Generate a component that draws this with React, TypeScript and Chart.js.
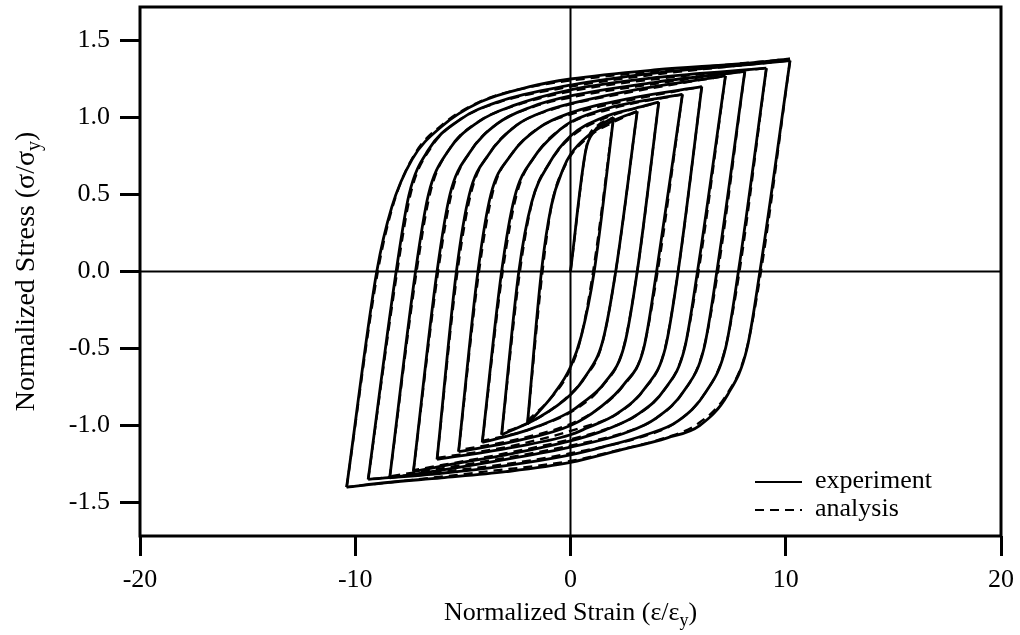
import React, { useEffect, useRef } from 'react';
import { Chart, registerables } from 'chart.js';

Chart.register(...registerables);

type P = [number, number][];

const X_TICKS = [-20, -10, 0, 10, 20];
const Y_TICKS = [-1.5, -1.0, -0.5, 0.0, 0.5, 1.0, 1.5];
const X_TITLE = ['Normalized Strain (\u03b5/\u03b5', 'y', ')'];
const Y_TITLE = ['Normalized Stress (\u03c3/\u03c3', 'y', ')'];
const LEGEND_LABELS = ['experiment', 'analysis'];

// ---------- experiment ----------
const expInit: P = [[0, 0], [0.7, 0.78], [1.1, 0.91], [1.5, 0.96], [2.0, 1.0]];

const expDown1: P = [[2.0, 1.0], [1.1, 0], [0.5, -0.42], [0, -0.62], [-0.8, -0.8], [-2.0, -0.99]];
const expDown2: P = [[3.1, 1.04], [2.1, 0], [1.5, -0.45], [0.7, -0.68], [0, -0.8], [-1.5, -0.95], [-3.2, -1.06]];
const expDown3: P = [[4.1, 1.1], [3.1, 0], [2.5, -0.48], [1.6, -0.72], [0.5, -0.86], [0, -0.91], [-2, -1.03], [-4.1, -1.11]];
const expDown4: P = [[5.2, 1.15], [4.0, 0], [3.4, -0.5], [2.5, -0.73], [1.3, -0.89], [0, -1.0], [-2.5, -1.1], [-5.2, -1.17]];
const expDown5: P = [[6.1, 1.2], [5.0, 0], [4.4, -0.5], [3.5, -0.75], [2.2, -0.92], [0.7, -1.02], [0, -1.06], [-3, -1.15], [-6.2, -1.22]];
const expDown6: P = [[7.2, 1.27], [5.9, 0], [5.3, -0.5], [4.4, -0.76], [3.1, -0.93], [1.6, -1.03], [0, -1.1], [-3, -1.19], [-5.5, -1.25], [-7.3, -1.3]];
const expDown7: P = [[8.1, 1.3], [6.8, 0], [6.2, -0.5], [5.3, -0.77], [4.0, -0.95], [2.5, -1.05], [0, -1.14], [-3, -1.22], [-6, -1.29], [-8.4, -1.34]];
const expDown8: P = [[9.1, 1.32], [7.8, 0], [7.2, -0.5], [6.3, -0.78], [5.0, -0.97], [3.5, -1.06], [1.5, -1.14], [0, -1.19], [-3, -1.26], [-6, -1.31], [-9.4, -1.35]];
const expDown9: P = [[10.2, 1.37], [8.8, 0], [8.2, -0.5], [7.3, -0.8], [6.0, -1.0], [4.5, -1.08], [2.3, -1.16], [0, -1.24], [-3, -1.3], [-6, -1.34], [-8.5, -1.37], [-10.4, -1.4]];

const expUp1: P = [[-2.0, -0.99], [-1.35, 0], [-0.9, 0.42], [-0.3, 0.68], [0, 0.76], [0.8, 0.88], [2.0, 0.98], [3.1, 1.04]];
const expUp2: P = [[-3.2, -1.06], [-2.4, 0], [-1.8, 0.45], [-1.0, 0.7], [0, 0.88], [1.5, 1.0], [3.0, 1.06], [4.1, 1.1]];
const expUp3: P = [[-4.1, -1.11], [-3.2, 0], [-2.6, 0.48], [-1.7, 0.74], [-0.5, 0.92], [0, 0.97], [2, 1.07], [5.2, 1.15]];
const expUp4: P = [[-5.2, -1.17], [-4.3, 0], [-3.7, 0.5], [-2.8, 0.75], [-1.5, 0.93], [0, 1.03], [3, 1.13], [6.1, 1.2]];
const expUp5: P = [[-6.2, -1.22], [-5.3, 0], [-4.7, 0.5], [-3.8, 0.76], [-2.5, 0.95], [-1, 1.05], [0, 1.09], [3, 1.18], [7.2, 1.27]];
const expUp6: P = [[-7.3, -1.3], [-6.2, 0], [-5.6, 0.5], [-4.7, 0.77], [-3.4, 0.96], [-1.8, 1.07], [0, 1.14], [4, 1.23], [8.1, 1.3]];
const expUp7: P = [[-8.4, -1.34], [-7.2, 0], [-6.6, 0.5], [-5.7, 0.78], [-4.3, 0.97], [-2.6, 1.08], [0, 1.18], [4, 1.26], [9.1, 1.32]];
const expUp8: P = [[-9.4, -1.35], [-8.1, 0], [-7.5, 0.5], [-6.6, 0.79], [-5.2, 0.98], [-3.4, 1.1], [0, 1.21], [4, 1.29], [8, 1.34], [10.2, 1.37]];
const expUp9: P = [[-10.4, -1.4], [-9.0, 0], [-8.3, 0.42], [-7.35, 0.73], [-6.0, 0.94], [-4.2, 1.1], [-1.9, 1.2], [0, 1.25], [4, 1.31], [8, 1.35], [10.2, 1.38]];

// ---------- analysis ----------
const anaInit: P = [[0, 0], [0.78, 0.84], [1.2, 0.94], [2.0, 1.0]];

const anaDown1: P = [[2.0, 1.0], [1.05, 0], [0.45, -0.45], [-0.1, -0.66], [-0.9, -0.82], [-2.0, -0.97]];
const anaDown2: P = [[3.1, 1.04], [2.1, 0], [1.45, -0.48], [0.6, -0.7], [-0.2, -0.82], [-1.6, -0.96], [-3.2, -1.05]];
const anaDown3: P = [[4.1, 1.1], [3.1, 0], [2.45, -0.5], [1.5, -0.74], [0.4, -0.88], [-2, -1.03], [-4.1, -1.1]];
const anaDown4: P = [[5.2, 1.15], [4.05, 0], [3.35, -0.52], [2.4, -0.75], [1.2, -0.9], [0, -0.99], [-2.5, -1.09], [-5.2, -1.16]];
const anaDown5: P = [[6.1, 1.2], [5.0, 0], [4.35, -0.52], [3.4, -0.77], [2.1, -0.93], [0.6, -1.01], [-3, -1.14], [-6.2, -1.21]];
const anaDown6: P = [[7.2, 1.27], [5.95, 0], [5.25, -0.52], [4.3, -0.78], [3.0, -0.94], [1.5, -1.03], [0, -1.09], [-3, -1.18], [-7.3, -1.29]];
const anaDown7: P = [[8.1, 1.3], [6.85, 0], [6.15, -0.52], [5.2, -0.79], [3.9, -0.96], [2.4, -1.05], [0, -1.13], [-3, -1.21], [-8.4, -1.33]];
const anaDown8: P = [[9.1, 1.32], [7.85, 0], [7.15, -0.52], [6.2, -0.8], [4.9, -0.98], [3.4, -1.07], [0, -1.18], [-3, -1.25], [-9.4, -1.35]];
const anaDown9: P = [[10.2, 1.37], [8.85, 0], [8.15, -0.52], [7.2, -0.81], [5.9, -0.99], [4.4, -1.08], [2.2, -1.16], [0, -1.23], [-4, -1.3], [-10.4, -1.4]];

const anaUp1: P = [[-2.0, -0.99], [-1.3, 0], [-0.85, 0.45], [-0.2, 0.7], [0.8, 0.87], [2, 0.97], [3.1, 1.04]];
const anaUp2: P = [[-3.2, -1.06], [-2.35, 0], [-1.75, 0.47], [-0.9, 0.72], [0, 0.87], [1.5, 0.99], [4.1, 1.1]];
const anaUp3: P = [[-4.1, -1.11], [-3.15, 0], [-2.5, 0.5], [-1.6, 0.76], [-0.4, 0.93], [2, 1.06], [5.2, 1.15]];
const anaUp4: P = [[-5.2, -1.17], [-4.25, 0], [-3.6, 0.52], [-2.7, 0.77], [-1.4, 0.94], [0, 1.02], [3, 1.12], [6.1, 1.2]];
const anaUp5: P = [[-6.2, -1.22], [-5.25, 0], [-4.6, 0.52], [-3.7, 0.78], [-2.4, 0.96], [-0.9, 1.05], [3, 1.17], [7.2, 1.27]];
const anaUp6: P = [[-7.3, -1.3], [-6.15, 0], [-5.5, 0.52], [-4.6, 0.79], [-3.3, 0.97], [-1.7, 1.07], [0, 1.13], [4, 1.22], [8.1, 1.3]];
const anaUp7: P = [[-8.4, -1.34], [-7.15, 0], [-6.5, 0.52], [-5.6, 0.8], [-4.2, 0.98], [-2.5, 1.08], [0, 1.17], [4, 1.25], [9.1, 1.32]];
const anaUp8: P = [[-9.4, -1.35], [-8.05, 0], [-7.4, 0.52], [-6.5, 0.8], [-5.1, 0.99], [-3.3, 1.1], [0, 1.2], [4, 1.28], [10.2, 1.37]];
const anaUp9: P = [[-10.4, -1.4], [-8.95, 0], [-8.2, 0.45], [-7.25, 0.76], [-5.9, 0.96], [-4.1, 1.11], [-1.8, 1.2], [0, 1.24], [4, 1.3], [10.2, 1.38]];

const EXP_BRANCHES: P[] = [
  expInit,
  expDown1, expUp1, expDown2, expUp2, expDown3, expUp3, expDown4, expUp4, expDown5, expUp5,
  expDown6, expUp6, expDown7, expUp7, expDown8, expUp8, expDown9, expUp9,
];
const ANA_BRANCHES: P[] = [
  anaInit,
  anaDown1, anaUp1, anaDown2, anaUp2, anaDown3, anaUp3, anaDown4, anaUp4, anaDown5, anaUp5,
  anaDown6, anaUp6, anaDown7, anaUp7, anaDown8, anaUp8, anaDown9, anaUp9,
];

const FONT = '"Liberation Serif", "Times New Roman", serif';
const DASH = [9, 6];

function drawSubText(ctx: CanvasRenderingContext2D, parts: string[], cx: number, baseY: number, size: number) {
  const big = `${size}px ${FONT}`;
  const small = `${Math.round(size * 0.7)}px ${FONT}`;
  ctx.font = big;
  const w1 = ctx.measureText(parts[0]).width;
  const w3 = ctx.measureText(parts[2]).width;
  ctx.font = small;
  const w2 = ctx.measureText(parts[1]).width;
  let x = cx - (w1 + w2 + w3) / 2;
  ctx.textAlign = 'left';
  ctx.textBaseline = 'alphabetic';
  ctx.fillStyle = '#000';
  ctx.font = big;
  ctx.fillText(parts[0], x, baseY);
  x += w1;
  ctx.font = small;
  ctx.fillText(parts[1], x, baseY + size * 0.23);
  x += w2;
  ctx.font = big;
  ctx.fillText(parts[2], x, baseY);
}

const overlayPlugin = {
  id: 'overlay',
  beforeDatasetsDraw(chart: any) {
    const { ctx, chartArea: a, scales } = chart;
    const x0 = scales.x.getPixelForValue(0);
    const y0 = scales.y.getPixelForValue(0);
    ctx.save();
    ctx.strokeStyle = '#000';
    ctx.lineWidth = 2;
    ctx.beginPath();
    ctx.moveTo(x0, a.top);
    ctx.lineTo(x0, a.bottom);
    ctx.moveTo(a.left, y0);
    ctx.lineTo(a.right, y0);
    ctx.stroke();
    ctx.restore();
  },
  afterDraw(chart: any) {
    const { ctx, chartArea: a } = chart;
    ctx.save();
    // frame
    ctx.strokeStyle = '#000';
    ctx.lineWidth = 3;
    ctx.strokeRect(a.left, a.top, a.right - a.left, a.bottom - a.top);
    // legend
    ctx.lineWidth = 2;
    ctx.beginPath();
    ctx.moveTo(755, 482);
    ctx.lineTo(802, 482);
    ctx.stroke();
    ctx.setLineDash(DASH);
    ctx.beginPath();
    ctx.moveTo(755, 510);
    ctx.lineTo(802, 510);
    ctx.stroke();
    ctx.setLineDash([]);
    ctx.fillStyle = '#000';
    ctx.font = `26px ${FONT}`;
    ctx.textAlign = 'left';
    ctx.textBaseline = 'alphabetic';
    ctx.fillText(LEGEND_LABELS[0], 815, 488);
    ctx.fillText(LEGEND_LABELS[1], 815, 516);
    // axis titles
    drawSubText(ctx, X_TITLE, (a.left + a.right) / 2, 620, 26);
    ctx.translate(34, (a.top + a.bottom) / 2);
    ctx.rotate(-Math.PI / 2);
    drawSubText(ctx, Y_TITLE, 0, 0, 28);
    ctx.restore();
  },
};

export default function App() {
  const ref = useRef<HTMLCanvasElement>(null);
  useEffect(() => {
    document.body.style.margin = '0';
    const canvas = ref.current;
    if (!canvas) return;
    const toXY = (p: P) => p.map(([x, y]) => ({ x, y }));
    const datasets: any[] = [];
    EXP_BRANCHES.forEach((b) => {
      datasets.push({
        data: toXY(b),
        showLine: true,
        borderColor: '#000',
        borderWidth: 2.8,
        pointRadius: 0,
        cubicInterpolationMode: 'monotone',
        fill: false,
      });
    });
    ANA_BRANCHES.forEach((b) => {
      datasets.push({
        data: toXY(b),
        showLine: true,
        borderColor: '#000',
        borderWidth: 2.3,
        borderDash: DASH,
        pointRadius: 0,
        cubicInterpolationMode: 'monotone',
        fill: false,
      });
    });
    const tickFont = { family: FONT, size: 26 };
    const chart = new Chart(canvas, {
      type: 'scatter',
      data: { datasets },
      options: {
        responsive: false,
        animation: false,
        devicePixelRatio: 1,
        layout: { padding: { top: 7, right: 19, left: 0, bottom: 0 } },
        plugins: { legend: { display: false }, tooltip: { enabled: false } },
        scales: {
          x: {
            type: 'linear',
            min: -20,
            max: 20,
            afterBuildTicks: (s: any) => {
              s.ticks = X_TICKS.map((v) => ({ value: v }));
            },
            afterFit: (s: any) => {
              s.height = 99;
              s.paddingLeft = 0;
              s.paddingRight = 0;
            },
            grid: { drawOnChartArea: false, drawTicks: true, tickLength: 20, tickWidth: 3, tickColor: '#000' },
            border: { display: false },
            ticks: {
              color: '#000',
              font: tickFont,
              padding: 9,
              maxRotation: 0,
              callback: (v: any) => String(v),
            },
          },
          y: {
            type: 'linear',
            min: -1.7175,
            max: 1.7175,
            afterBuildTicks: (s: any) => {
              s.ticks = Y_TICKS.map((v) => ({ value: v }));
            },
            afterFit: (s: any) => {
              s.width = 140;
              s.paddingTop = 0;
              s.paddingBottom = 0;
            },
            grid: { drawOnChartArea: false, drawTicks: true, tickLength: 20, tickWidth: 3, tickColor: '#000' },
            border: { display: false },
            ticks: {
              color: '#000',
              font: tickFont,
              padding: 10,
              callback: (v: any) => Number(v).toFixed(1),
            },
          },
        },
      },
      plugins: [overlayPlugin],
    } as any);
    return () => chart.destroy();
  }, []);
  return (
    <div style={{ position: 'fixed', left: 0, top: 0, width: 1020, height: 635, background: '#fff' }}>
      <canvas ref={ref} width={1020} height={635} style={{ display: 'block' }} />
    </div>
  );
}
